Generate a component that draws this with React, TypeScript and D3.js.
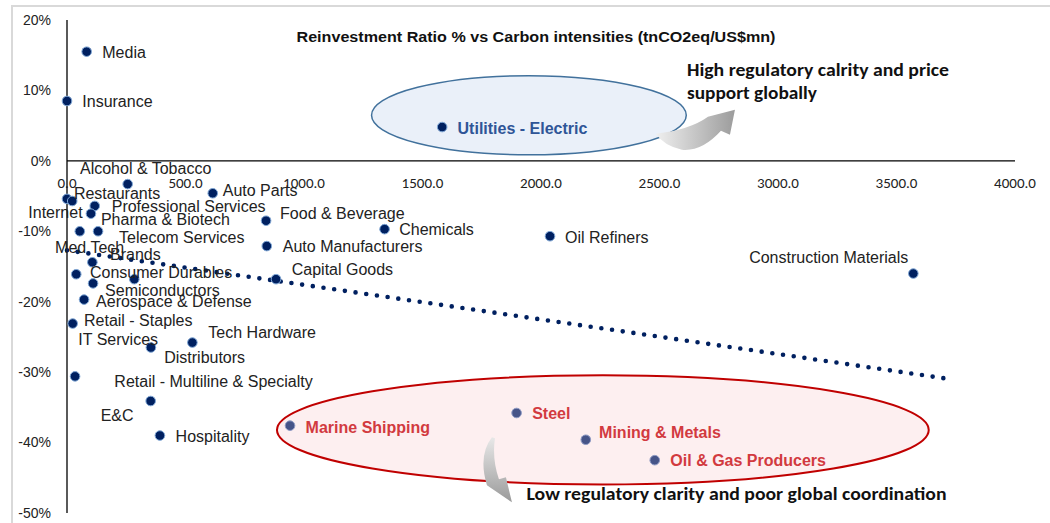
import React, { useEffect, useRef } from 'react';
import * as d3 from 'd3';

// sector data
const sectors = [
  'Media', 'Insurance', 'Alcohol & Tobacco', 'Auto Parts', 'Internet', 'Restaurants',
  'Professional Services', 'Pharma & Biotech', 'Med Tech', 'Telecom Services', 'Food & Beverage',
  'Chemicals', 'Oil Refiners', 'Auto Manufacturers', 'Brands', 'Consumer Durables', 'IT Services',
  'Capital Goods', 'Construction Materials', 'Semiconductors', 'Aerospace & Defense', 'Retail - Staples',
  'Distributors', 'Tech Hardware', 'Retail - Multiline & Specialty', 'E&C', 'Hospitality',
  'Utilities - Electric', 'Marine Shipping', 'Steel', 'Mining & Metals', 'Oil & Gas Producers',
];
const carbonIntensity = [
  83, 0, 256, 615, 0, 22,
  117, 101, 54, 131, 840,
  1340, 2038, 843, 107, 39, 284,
  882, 3571, 110, 72, 24,
  354, 529, 34, 353, 392,
  1583, 941, 1897, 2189, 2480,
];
const reinvestmentRatio = [
  15.5, 8.5, -3.3, -4.6, -5.4, -5.7,
  -6.4, -7.5, -10.0, -10.0, -8.5,
  -9.7, -10.7, -12.1, -14.4, -16.1, -16.8,
  -16.8, -16.0, -17.4, -19.7, -23.1,
  -26.5, -25.8, -30.6, -34.1, -39.0,
  4.8, -37.6, -35.8, -39.6, -42.5,
];
const highClarity = ['Utilities - Electric'];
const lowClarity = ['Marine Shipping', 'Steel', 'Mining & Metals', 'Oil & Gas Producers'];

// linear trend line (as drawn)
const trendX = [0, 3728];
const trendY = [-12.7, -31.0];

const xTickValues = [0, 500, 1000, 1500, 2000, 2500, 3000, 3500, 4000];
const yTickValues = [-50, -40, -30, -20, -10, 0, 10, 20];

const title = 'Reinvestment Ratio % vs Carbon intensities (tnCO2eq/US$mn)';
const highNote = ['High regulatory calrity and price', 'support globally'];
const lowNote = 'Low regulatory clarity and poor global coordination';

// label placement relative to the dot: [dx, dy, anchor]
const labelOffset: Record<string, [number, number, string?]> = {
  'Media': [15.6, 1],
  'Insurance': [15.3, 0],
  'Alcohol & Tobacco': [-47.7, -15.3],
  'Auto Parts': [10, -2.6],
  'Internet': [15.6, 14, 'end'],
  'Restaurants': [1.7, -7.7],
  'Professional Services': [17, 0.7],
  'Pharma & Biotech': [10, 5.3],
  'Med Tech': [-24.7, 15.7],
  'Telecom Services': [21, 5.7],
  'Food & Beverage': [14, -7.7],
  'Chemicals': [14.6, 0],
  'Oil Refiners': [15, 0.7],
  'Auto Manufacturers': [16, 0.7],
  'Brands': [17.7, -8],
  'Consumer Durables': [13.7, -1.6],
  'IT Services': [-56, 60],
  'Capital Goods': [15.7, -10],
  'Construction Materials': [-5, -16.6, 'end'],
  'Semiconductors': [12, 7],
  'Aerospace & Defense': [12, 1.4],
  'Retail - Staples': [11.3, -3.3],
  'Distributors': [13.3, 10.3],
  'Tech Hardware': [16, -9.8],
  'Retail - Multiline & Specialty': [39.3, 5.4],
  'E&C': [-50, 14.3],
  'Hospitality': [15.7, 1],
  'Utilities - Electric': [15.4, 1],
  'Marine Shipping': [15.6, 1.5],
  'Steel': [15.6, 0.6],
  'Mining & Metals': [13.3, -7.6],
  'Oil & Gas Producers': [15.6, 0],
};

const W = 1050;
const H = 523;
const ARIAL = '"Liberation Sans", Arial, sans-serif';
const CALIBRI = 'Carlito, Lato, "Open Sans", sans-serif';

const App: React.FC = () => {
  const svgRef = useRef<SVGSVGElement>(null);

  useEffect(() => {
    if (!svgRef.current) return;
    const svg = d3.select(svgRef.current);
    svg.selectAll('*').remove();

    const x = d3.scaleLinear().domain([0, 4000]).range([67, 1015]);
    const y = d3.scaleLinear().domain([-50, 20]).range([513, 20]);

    const defs = svg.append('defs');
    const gUp = defs.append('linearGradient').attr('id', 'arrowUp')
      .attr('x1', '0%').attr('y1', '0%').attr('x2', '100%').attr('y2', '0%');
    gUp.append('stop').attr('offset', '0%').attr('stop-color', '#efefef');
    gUp.append('stop').attr('offset', '100%').attr('stop-color', '#9c9c9c');
    const gDown = defs.append('linearGradient').attr('id', 'arrowDown')
      .attr('x1', '0%').attr('y1', '0%').attr('x2', '0%').attr('y2', '100%');
    gDown.append('stop').attr('offset', '0%').attr('stop-color', '#e8e8e8');
    gDown.append('stop').attr('offset', '100%').attr('stop-color', '#9a9a9a');

    // chart frame
    svg.append('rect')
      .attr('x', 12).attr('y', 6).attr('width', W).attr('height', H)
      .attr('fill', 'none').attr('stroke', '#d9d9d9').attr('stroke-width', 2);

    // highlight ellipses (data coords)
    const ell = (cx: number, cy: number, rx: number, ry: number) => ({
      cx: x(cx), cy: y(cy), rx: x(cx + rx) - x(cx), ry: y(cy - ry) - y(cy),
    });
    const blue = ell(1949, 6.47, 664, 5.62);
    svg.append('ellipse')
      .attr('cx', blue.cx).attr('cy', blue.cy).attr('rx', blue.rx).attr('ry', blue.ry)
      .attr('fill', '#eaf0f9').attr('stroke', '#41719c').attr('stroke-width', 1.5);
    const red = ell(2261, -38.2, 1375, 7.75);
    svg.append('ellipse')
      .attr('cx', red.cx).attr('cy', red.cy).attr('rx', red.rx).attr('ry', red.ry)
      .attr('fill', '#fdeff0').attr('stroke', '#c00000').attr('stroke-width', 2);

    // axes
    svg.append('line')
      .attr('x1', x(0)).attr('x2', x(0)).attr('y1', y(20)).attr('y2', y(-50))
      .attr('stroke', '#000').attr('stroke-width', 1.3);
    svg.append('line')
      .attr('x1', x(0)).attr('x2', x(4000)).attr('y1', y(0)).attr('y2', y(0))
      .attr('stroke', '#000').attr('stroke-width', 1.3);

    svg.append('g').selectAll('text')
      .data(xTickValues).enter().append('text')
      .attr('x', d => x(d)).attr('y', y(0) + 22)
      .attr('dy', '0.35em').attr('text-anchor', 'middle')
      .attr('font-family', CALIBRI).attr('font-size', 15).attr('fill', '#222')
      .text(d => d3.format('.1f')(d));

    svg.append('g').selectAll('text')
      .data(yTickValues).enter().append('text')
      .attr('x', 51).attr('y', d => y(d))
      .attr('dy', '0.35em').attr('text-anchor', 'end')
      .attr('font-family', ARIAL).attr('font-size', 14).attr('fill', '#222')
      .text(d => `${d}%`);

    // title
    svg.append('text')
      .attr('x', 536).attr('y', 37).attr('dy', '0.35em').attr('text-anchor', 'middle')
      .attr('font-family', ARIAL).attr('font-size', 14).attr('font-weight', 'bold')
      .attr('textLength', 479).attr('lengthAdjust', 'spacingAndGlyphs')
      .attr('fill', '#111').text(title);

    // trend line
    const trend = d3.line<number>()
      .x(d => x(d))
      .y((_, i) => y(trendY[i]));
    svg.append('path')
      .datum(trendX)
      .attr('d', trend)
      .attr('fill', 'none').attr('stroke', '#002060').attr('stroke-width', 4.6)
      .attr('stroke-linecap', 'round').attr('stroke-dasharray', '0,10.8');

    const pts = sectors.map((name, i) => ({ name, cx: x(carbonIntensity[i]), cy: y(reinvestmentRatio[i]) }));

    // dots
    svg.append('g').selectAll('circle')
      .data(pts).enter().append('circle')
      .attr('cx', d => d.cx).attr('cy', d => d.cy).attr('r', 4.8)
      .attr('fill', d => lowClarity.includes(d.name) ? '#465488' : '#002060')
      .attr('stroke', d => lowClarity.includes(d.name) ? '#8e9ac4' : '#7fa7d6')
      .attr('stroke-width', 1);

    // labels
    svg.append('g').selectAll('text')
      .data(pts).enter().append('text')
      .attr('x', d => d.cx + labelOffset[d.name][0])
      .attr('y', d => d.cy + labelOffset[d.name][1])
      .attr('dy', '0.35em')
      .attr('text-anchor', d => labelOffset[d.name][2] || 'start')
      .attr('font-family', ARIAL).attr('font-size', 16)
      .attr('font-weight', d => (highClarity.includes(d.name) || lowClarity.includes(d.name)) ? 'bold' : 'normal')
      .attr('fill', d => highClarity.includes(d.name) ? '#2f5597' : lowClarity.includes(d.name) ? '#d23a3f' : '#222')
      .text(d => d.name);

    // curved arrows
    svg.append('path')
      .attr('transform', `translate(${x(2485)},${y(3.84)})`)
      .attr('d', 'M0,0 Q34,-4 52,-17 L79,-24 L74,1 L65,-3 Q46,18 26,16 Q8,12 0,0 Z')
      .attr('fill', 'url(#arrowUp)');
    svg.append('path')
      .attr('transform', `translate(${x(1793)},${y(-39.26)})`)
      .attr('d', 'M0,0 Q-14,18 -5,48 L20,65 L14,40 L7,42 Q0,22 3,1 Z')
      .attr('fill', 'url(#arrowDown)');

    // notes
    const high = svg.append('text')
      .attr('font-family', CALIBRI).attr('font-size', 17).attr('font-weight', 'bold').attr('fill', '#111');
    high.append('tspan').attr('x', x(2616)).attr('y', y(12.95)).attr('dy', '0.35em')
      .attr('textLength', 262).attr('lengthAdjust', 'spacingAndGlyphs').text(highNote[0]);
    high.append('tspan').attr('x', x(2616)).attr('y', y(9.63)).attr('dy', '0.35em')
      .attr('textLength', 130).attr('lengthAdjust', 'spacingAndGlyphs').text(highNote[1]);

    svg.append('text')
      .attr('x', x(1939)).attr('y', y(-47.37)).attr('dy', '0.35em')
      .attr('font-family', CALIBRI).attr('font-size', 17).attr('font-weight', 'bold').attr('fill', '#111')
      .attr('textLength', 420).attr('lengthAdjust', 'spacingAndGlyphs')
      .text(lowNote);
  }, []);

  return (
    <svg
      ref={svgRef}
      width={W}
      height={H}
      style={{ position: 'absolute', left: 0, top: 0, background: '#fff' }}
    />
  );
};

export default App;
